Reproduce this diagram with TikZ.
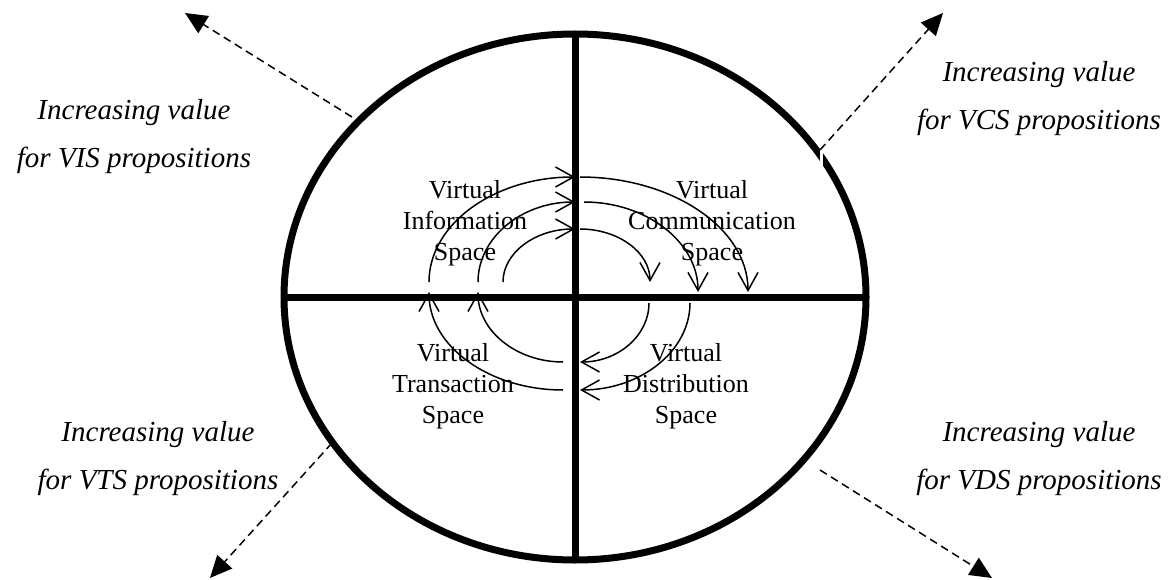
\documentclass[tikz,border=0pt]{standalone}
\usepackage{fontspec}
\setmainfont{Liberation Serif}
\usetikzlibrary{arrows.meta}
\begin{document}
\begin{tikzpicture}[x=1pt,y=-1pt,
  frame/.style={line width=7pt},
  axisline/.style={line width=7pt},
  flow/.style={line width=1.5pt,-{Straight Barb[length=18pt,width=20pt,line width=1.5pt]}},
  trend/.style={line width=1.5pt,dash pattern=on 8pt off 5pt,-{Triangle[length=22pt,width=20pt]}},
  spacelbl/.style={align=center,font=\fontsize{26}{31}\selectfont,inner sep=0pt},
  valuelbl/.style={align=center,font=\fontsize{29}{48}\selectfont\itshape,inner sep=0pt}]
\useasboundingbox (0,0) rectangle (1170,580);

% frame ellipse and axes
\draw[frame] (575,297) ellipse [x radius=291, y radius=263];
\coordinate (vtop) at (575,33);
\coordinate (vbot) at (575,561);
\coordinate (hl) at (284,297);
\coordinate (hr) at (866,297);
\draw[axisline] (vtop) -- (vbot);
\draw[axisline] (hl) -- (hr);
\fill[white] (820,150) rectangle (823,166);

% quadrant labels
\node[spacelbl] (vis) at (465,223) {Virtual\\Information\\Space};
\node[spacelbl] (vcs) at (712,223) {Virtual\\Communication\\Space};
\node[spacelbl] (vts) at (453,386) {Virtual\\Transaction\\Space};
\node[spacelbl] (vds) at (686,386) {Virtual\\Distribution\\Space};

% value labels
\node[valuelbl] (tlv) at (134,137) {Increasing value\\for VIS propositions};
\node[valuelbl] (trv) at (1039,99) {Increasing value\\for VCS propositions};
\node[valuelbl] (blv) at (158,459) {Increasing value\\for VTS propositions};
\node[valuelbl] (brv) at (1039,459) {Increasing value\\for VDS propositions};

% dashed trend arrows
\coordinate (tlS) at (352,117);  \coordinate (tlE) at (185,13);
\coordinate (trS) at (820,150);  \coordinate (trE) at (943,13);
\coordinate (blS) at (332,443);  \coordinate (blE) at (210,578);
\coordinate (brS) at (820,470);  \coordinate (brE) at (992,578);
\draw[trend] (tlS) -- (tlE);
\draw[trend] (trS) -- (trE);
\draw[trend] (blS) -- (blE);
\draw[trend] (brS) -- (brE);

% spiral
\draw[flow] (503,282) .. controls (503,252.7) and (535.3,229) .. (575,229);
\draw[flow] (580,229) .. controls (618.6,229) and (650,252.7) .. (650,282);
\draw[flow] (649,303) .. controls (649,335.6) and (618.1,362) .. (580,362);
\draw[flow] (563,362) .. controls (516.1,362) and (478,330.6) .. (478,292);
\draw[flow] (478,282) .. controls (478,237.8) and (521.5,202) .. (575,202);
\draw[flow] (584,202) .. controls (646.9,202) and (698,242.3) .. (698,292);
\draw[flow] (690,303) .. controls (690,351) and (640.7,390) .. (580,390);
\draw[flow] (563,390) .. controls (489,390) and (429,346.1) .. (429,292);
\draw[flow] (429,282) .. controls (429,224) and (494.4,177) .. (575,177);
\draw[flow] (580,177) .. controls (672.7,177) and (748,228.5) .. (748,292);
\end{tikzpicture}
\end{document}
